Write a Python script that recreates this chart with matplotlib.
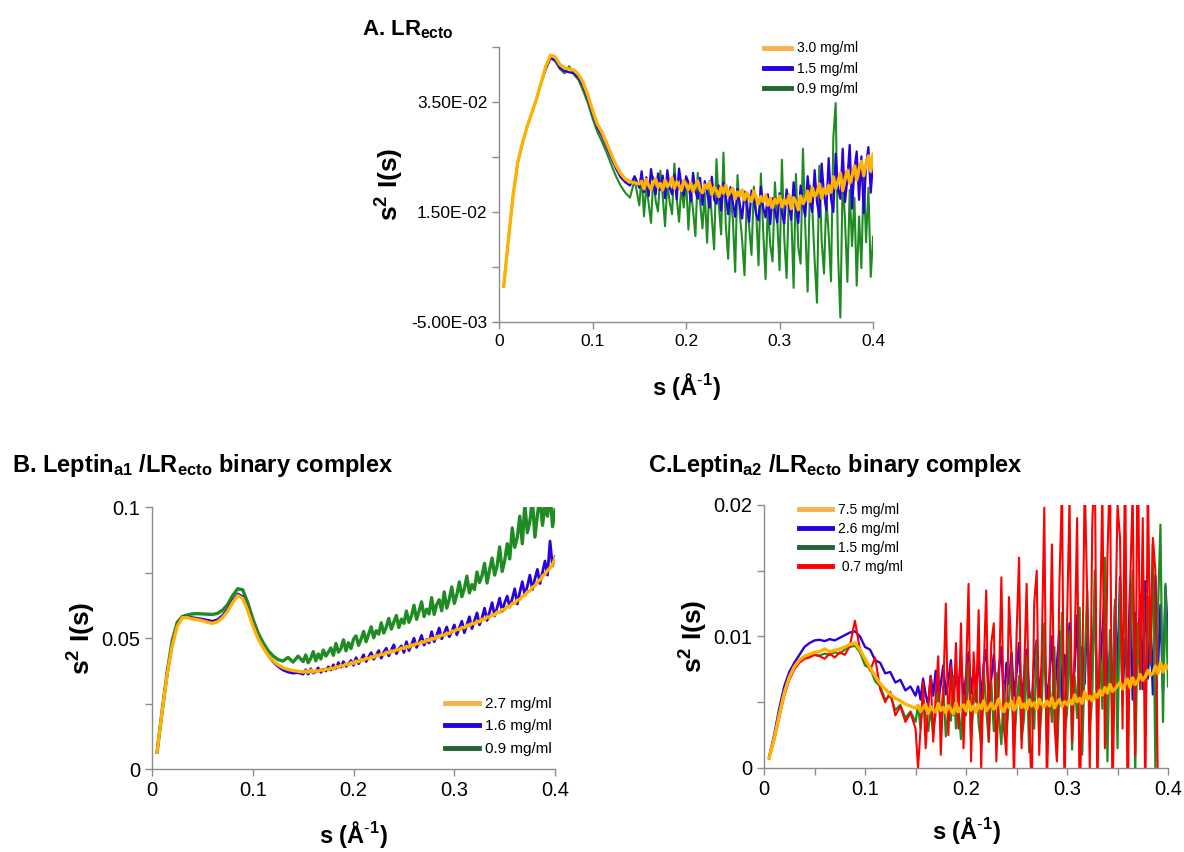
import numpy as np
import matplotlib.pyplot as plt
from matplotlib.lines import Line2D

plt.rcParams['font.family'] = ['Liberation Sans', 'DejaVu Sans']
plt.rcParams['mathtext.fontset'] = 'custom'
plt.rcParams['mathtext.rm'] = 'Liberation Sans'
plt.rcParams['mathtext.bf'] = 'Liberation Sans:bold'
plt.rcParams['mathtext.it'] = 'Liberation Sans:italic'

# s grid (1/A): coarse 0.005 steps up to 0.15, then 0.0025 steps up to 0.4
s = np.concatenate([np.arange(1, 31) * 0.005, 0.15 + np.arange(1, 101) * 0.0025])

# ---------------- panel A, s^2 I(s) in units of 1e-3 ----------------
a_30 = [1.5, 10, 18, 24, 27.5, 30.5, 33, 35.5, 38.5, 41.5,
        43.5, 43.2, 41.8, 41.2, 41, 40.8, 40, 38.5, 36.2, 33.5,
        31, 29.5, 27.5, 25.5, 23.5, 22, 21, 20.5, 20.3, 20.1,
        20.6, 19.2, 20.9, 19.8, 19.1, 20.4, 21.0, 19.5, 20.2, 19.0,
        20.8, 19.6, 20.1, 21.2, 19.3, 20.5, 19.8, 18.9, 20.7, 19.9,
        19.1, 20.3, 18.7, 19.8, 20.6, 19.0, 18.5, 19.9, 19.3, 20.4,
        18.2, 19.5, 18.9, 17.8, 19.6, 18.4, 19.9, 18.0, 18.7, 19.3,
        17.4, 18.6, 17.9, 19.0, 17.2, 18.5, 17.7, 16.9, 18.8, 17.6,
        16.5, 17.8, 16.9, 18.1, 16.2, 17.5, 15.8, 17.3, 16.6, 17.9,
        15.9, 17.2, 16.4, 18.0, 15.6, 17.6, 16.8, 15.4, 17.9, 16.5,
        17.2, 18.8, 16.9, 19.4, 17.8, 18.5, 20.1, 17.5, 19.2, 18.3,
        19.8, 18.6, 21.4, 19.3, 20.6, 22.1, 18.9, 21.0, 22.6, 20.2,
        21.5, 23.4, 20.8, 22.9, 24.2, 21.6, 23.8, 25.2, 22.4, 25.5]
a_15 = [1.5, 10, 18, 24, 27.5, 30.5, 33, 35.5, 38.5, 41,
        43, 42.6, 41.2, 40.6, 40.4, 40.2, 39.4, 37.8, 35.5, 32.8,
        30.4, 28.8, 26.8, 24.8, 22.9, 21.3, 20.4, 19.8, 21.5, 19.4,
        22.4, 18.6, 21.3, 17.9, 22.8, 20.1, 18.2, 22.0, 19.0, 21.6,
        17.5, 22.6, 19.4, 18.2, 21.8, 17.3, 22.9, 19.8, 18.0, 21.5,
        20.4, 16.9, 22.1, 18.8, 17.4, 21.2, 16.3, 20.6, 18.5, 15.8,
        21.4, 17.2, 16.5, 19.8, 15.2, 20.3, 17.9, 14.6, 19.5, 16.8,
        14.1, 19.2, 16.4, 13.8, 18.7, 15.9, 13.2, 18.9, 17.1, 14.5,
        13.5, 19.6, 15.8, 14.0, 18.2, 12.8, 17.5, 15.2, 13.1, 18.4,
        14.8, 12.9, 19.1, 16.2, 13.6, 20.4, 15.5, 13.0, 19.8, 16.2,
        14.2, 21.5, 17.0, 15.0, 22.6, 16.8, 14.1, 23.8, 18.2, 15.3,
        24.8, 17.4, 15.0, 25.6, 19.2, 17.4, 26.5, 16.8, 21.0, 27.2,
        15.6, 22.8, 26.0, 17.2, 25.1, 14.8, 23.6, 26.8, 18.5, 24.0]
a_09 = [1.5, 10, 18, 24, 27.5, 30.5, 33, 35.5, 38.5, 41,
        43, 42.4, 41.0, 40.2, 41.5, 40.0, 39.0, 37.0, 34.8, 32.0,
        29.6, 27.8, 25.8, 23.6, 21.5, 19.8, 18.5, 17.6, 20.8, 16.2,
        21.6, 14.2, 19.8, 16.5, 13.0, 21.3, 17.0, 15.1, 22.5, 18.0,
        12.4, 20.2, 16.8, 14.6, 23.8, 17.5, 13.2, 19.9, 15.8, 21.0,
        11.8, 19.5, 15.2, 10.6, 22.1, 16.9, 12.0, 18.4, 9.4, 20.6,
        14.0, 8.2, 24.6, 16.3, 10.9, 25.8, 12.5, 6.5, 18.4, 13.7,
        4.1, 21.7, 14.5, 9.8, 3.5, 17.8, 12.2, 7.2, 19.6, 15.0,
        5.3, 22.0, 11.4, 2.8, 16.5, 9.0, 6.0, 20.4, 13.6, 4.4,
        24.5, 10.2, 3.0, 18.2, 14.7, 1.2, 21.9, 8.6, 5.6, 26.5,
        12.3, 0.5, 19.8, 15.6, 6.2, -1.5, 23.4, 9.8, 3.8, 17.5,
        11.0, 2.4, 28.6, 34.8, 7.5, -4.2, 21.5, 13.4, 2.3, 19.0,
        8.8, 17.6, 1.6, 14.2, 4.8, 22.5, 9.5, 19.4, 3.2, 10.5]

# ---------------- panel B, units of 1e-3 ----------------
b_27 = [6.5, 22, 36, 47, 54.5, 57.8, 57.8, 57.3, 57.0, 56.6,
        56.0, 55.6, 56.2, 57.8, 60.2, 63.5, 66.2, 65.2, 60.5, 54.8,
        50.0, 46.5, 43.5, 41.3, 39.8, 38.7, 38.0, 37.6, 37.3, 37.0,
        37.4, 36.9, 37.8, 37.0, 37.6, 37.2, 38.0, 37.5, 38.2, 37.9,
        38.6, 38.1, 39.2, 38.8, 39.6, 39.3, 40.2, 39.8, 40.6, 40.3,
        41.2, 40.9, 41.8, 41.5, 42.4, 42.0, 42.9, 42.6, 43.5, 43.2,
        44.0, 43.6, 44.6, 44.3, 45.1, 44.8, 45.6, 45.4, 46.2, 46.0,
        46.8, 46.5, 47.4, 47.1, 48.0, 47.8, 48.6, 48.4, 49.2, 49.0,
        49.9, 49.6, 50.6, 50.3, 51.2, 51.0, 51.9, 51.7, 52.7, 52.5,
        53.4, 53.2, 54.1, 53.9, 54.9, 54.7, 55.6, 55.4, 56.4, 56.2,
        57.2, 57.0, 58.1, 57.9, 59.0, 58.8, 59.9, 59.8, 60.9, 60.8,
        62.0, 62.0, 63.2, 63.3, 64.5, 64.7, 66.0, 66.3, 67.6, 68.0,
        69.4, 69.9, 71.5, 72.1, 73.6, 74.4, 75.8, 76.8, 78.0, 80.5]
b_16 = [6.5, 22, 36, 47.5, 55, 58, 58, 57.8, 57.5, 57.2,
        56.8, 56.4, 57.0, 58.6, 61.0, 64.2, 66.8, 65.8, 61.2, 55.4,
        50.4, 46.8, 43.6, 41.0, 39.2, 37.8, 37.0, 36.6, 36.8, 36.2,
        37.9, 36.2, 38.3, 36.6, 37.2, 38.6, 36.9, 38.0, 37.4, 39.0,
        37.8, 39.8, 38.4, 40.6, 38.9, 41.0, 39.2, 40.1, 41.4, 39.6,
        42.5, 40.2, 41.8, 43.6, 41.0, 42.8, 44.4, 41.9, 43.5, 45.2,
        42.3, 44.6, 46.1, 43.2, 45.5, 47.4, 44.0, 45.8, 47.0, 44.5,
        48.6, 45.2, 47.5, 49.9, 46.4, 48.3, 51.0, 47.3, 49.5, 48.1,
        52.4, 48.6, 50.9, 53.8, 49.7, 51.8, 54.2, 50.5, 52.6, 55.0,
        51.2, 53.8, 56.4, 52.0, 55.2, 58.1, 53.6, 56.5, 59.6, 55.0,
        57.6, 61.4, 56.7, 59.9, 63.5, 58.4, 61.6, 65.2, 60.2, 63.5,
        66.0, 61.8, 65.0, 68.8, 63.0, 67.4, 71.5, 66.3, 69.8, 74.0,
        68.5, 72.6, 76.2, 70.8, 75.0, 79.4, 74.0, 87.0, 77.5, 81.0]
b_09 = [6.5, 22, 37, 49, 56, 58.2, 58.8, 59.2, 59.3, 59.2,
        59.1, 59.0, 59.4, 60.6, 62.8, 66.2, 68.8, 68.4, 63.5, 57.4,
        52.2, 48.4, 45.3, 43.2, 41.8, 41.2, 42.6, 40.8, 43.1, 41.0,
        43.5, 40.6, 42.2, 44.8, 41.3, 43.9, 42.0, 45.4, 43.1, 44.6,
        46.2, 43.4, 47.9, 44.6, 46.0, 49.3, 45.1, 48.2, 46.0, 49.6,
        50.8, 47.2, 49.6, 52.5, 48.6, 51.4, 54.3, 50.1, 52.8, 51.5,
        55.8, 51.9, 54.2, 57.5, 53.4, 56.1, 58.6, 54.0, 57.2, 55.6,
        60.3, 56.0, 58.4, 62.5, 57.1, 60.2, 63.8, 58.2, 61.0, 59.2,
        65.4, 59.0, 62.8, 64.6, 60.4, 67.6, 61.4, 64.8, 69.5, 63.2,
        66.5, 71.4, 65.8, 68.9, 73.6, 67.2, 70.4, 68.5, 75.2, 71.2,
        73.8, 78.5, 71.0, 76.0, 80.5, 74.0, 77.6, 84.8, 75.4, 79.5,
        86.0, 80.2, 92.0, 84.6, 88.4, 96.5, 86.0, 101, 90.2, 94.5,
        103, 88.5, 97.0, 104, 93.0, 101, 96.5, 106, 92.5, 99.0]

# ---------------- panel C, units of 1e-4 ----------------
c_75 = [7.5, 22, 40, 57, 69, 77, 82, 85, 86.5, 88,
        88.5, 90.5, 88.5, 89.5, 90.5, 92, 94, 95, 90, 83,
        76, 70, 64, 60, 56, 53, 51, 48.5, 47, 45.5,
        47.5, 43.0, 45.8, 48.2, 41.5, 46.8, 44.0, 42.6, 49.0, 43.8,
        46.1, 42.0, 47.3, 44.6, 41.2, 49.5, 42.8, 46.2, 48.0, 43.5,
        50.6, 44.0, 47.1, 42.4, 48.2, 45.1, 51.0, 43.6, 46.0, 49.4,
        44.8, 47.6, 52.5, 45.3, 42.9, 49.0, 46.2, 50.8, 44.1, 47.0,
        53.4, 46.0, 48.7, 44.5, 51.8, 47.2, 49.6, 45.0, 52.3, 48.5,
        46.4, 50.9, 47.3, 53.2, 45.8, 49.5, 52.0, 46.6, 50.4, 48.2,
        51.8, 48.5, 55.6, 50.4, 53.0, 49.2, 57.8, 52.2, 54.6, 51.0,
        56.5, 53.8, 59.0, 55.6, 61.2, 57.0, 63.5, 58.4, 60.1, 62.8,
        65.0, 60.2, 63.8, 67.6, 61.2, 68.6, 63.5, 66.0, 71.0, 66.8,
        69.5, 74.2, 70.4, 72.0, 77.5, 71.6, 80.2, 73.0, 78.5, 76.0]
c_26 = [8.5, 25, 45, 62, 73, 80, 86, 92, 95, 97,
        97.5, 96.5, 98, 97, 99, 101, 103, 104, 100, 92,
        90, 82, 80, 72, 73, 65, 67, 59, 62, 55,
        62, 52, 68, 56, 48, 70, 55, 74, 50, 64,
        78, 56, 66, 82, 54, 72, 60, 85, 52, 70,
        88, 57, 74, 62, 84, 50, 79, 90, 55, 68,
        86, 53, 75, 92, 48, 80, 64, 88, 55, 72,
        95, 50, 70, 90, 58, 46, 84, 97, 52, 76,
        94, 50, 68, 100, 55, 79, 104, 48, 86, 62,
        110, 56, 75, 116, 52, 92, 64, 120, 58, 85,
        128, 50, 72, 104, 135, 62, 88, 55, 124, 70,
        145, 55, 98, 66, 140, 52, 118, 80, 132, 60,
        142, 68, 112, 56, 146, 75, 124, 58, 138, 98]
c_15 = [7.5, 22, 40, 56, 68, 76, 81, 84, 85, 86,
        85.5, 87, 86, 88, 87, 90, 92, 93, 88, 78,
        76, 66, 62, 52, 55, 44, 48, 38, 43, 35,
        48, 30, 52, 38, 28, 45, 26, 42, 58, 32,
        62, 24, 44, 36, 70, 30, 48, 22, 55, 40,
        80, 22, 50, 68, 34, 18, 75, 45, 20, 66,
        28, 72, 40, 18, 64, 25, 52, 78, 15, 46,
        70, 22, 38, 85, 12, 58, 30, 96, 18, 48,
        110, 20, 65, 35, 92, 8, 58, 118, 25, 42,
        104, 14, 70, 38, 122, 10, 80, 135, 28, 55,
        150, 22, 90, 45, 160, 5, 105, 30, 128, 15,
        142, 48, 165, 12, 95, 150, -5, 110, 60, 168,
        25, 130, 78, 170, 0, 118, 185, 35, 140, 62]
c_07 = [7, 21, 38, 55, 67, 75, 80, 83, 84, 86,
        85, 83, 87, 84, 88, 86, 93, 112, 90, 82,
        74, 84, 60, 50, 58, 40, 47, 35, 42, 30,
        0, 30, 65, 15, 48, 70, 20, 55, 85, 10,
        60, 125, 25, 78, 40, 95, 30, 110, 15, 70,
        140, 5, 88, 50, 120, 0, 75, 135, 20, 95,
        110, 5, 60, 145, 30, 10, 130, 85, -10, 100,
        160, 15, 70, 140, 40, -20, 125, 150, 10, 90,
        198, -15, 60, 170, 35, 5, 140, 215, -25, 110,
        205, 20, 90, 190, -30, 60, 220, 130, 0, 185,
        240, -20, 100, 210, 15, 160, 230, -30, 90, 200,
        175, 30, 250, -40, 140, 210, 10, 260, 60, 190,
        -30, 220, 80, 175, 150, -20, np.nan, np.nan, np.nan, np.nan]

YELLOW = '#FFB300'
BLUE = '#2A00E0'
GREEN = '#1E8C22'
RED = '#FF0000'
LEG_YELLOW = '#F9B24A'
LEG_GREEN = '#1F6634'
GRAY = '#8C8C8C'

fig = plt.figure(figsize=(11.84, 8.52), dpi=100)

def style(ax, lab_size, xpad):
    for side in ['top', 'right']:
        ax.spines[side].set_visible(False)
    for side in ['left', 'bottom']:
        ax.spines[side].set_color(GRAY)
        ax.spines[side].set_linewidth(1.0)
    ax.tick_params(which='both', direction='out', color=GRAY, length=5, width=1,
                   labelsize=lab_size)
    ax.set_xlim(0, 0.4)
    ax.set_xticks([0, 0.1, 0.2, 0.3, 0.4])
    ax.set_xticklabels(['0', '0.1', '0.2', '0.3', '0.4'])
    ax.set_xlabel(r's (Å$^{\mathbf{\text{-}1}}$)', fontsize=17, fontweight='bold',
                  labelpad=xpad)
    ax.set_ylabel(r's$^{\mathbf{2}}$ I(s)', fontsize=19, fontweight='bold')

def legend(ax, labels, colors, **kw):
    handles = [Line2D([], [], color=c, lw=3.5) for c in colors]
    ax.legend(handles, labels, frameon=False, handletextpad=0.4,
              borderaxespad=0.0, **kw)

# ---- A ----
axA = fig.add_axes([0.4215, 0.6221, 0.3159, 0.3228])
axA.plot(s, np.array(a_09) * 1e-3, color=GREEN, lw=1.5)
axA.plot(s, np.array(a_15) * 1e-3, color=BLUE, lw=1.6)
axA.plot(s, np.array(a_30) * 1e-3, color=YELLOW, lw=2.4)
style(axA, 12.5, 16)
axA.set_ylim(-0.005, 0.045)
axA.set_yticks([-0.005, 0.015, 0.035])
axA.set_yticklabels(['-5.00E-03', '1.50E-02', '3.50E-02'])
axA.set_yticks([0.005, 0.025, 0.045], minor=True)
axA.yaxis.labelpad = 4
legend(axA, ['3.0 mg/ml', '1.5 mg/ml', '0.9 mg/ml'], [LEG_YELLOW, BLUE, LEG_GREEN],
       loc='upper right', fontsize=10, handlelength=2.0, labelspacing=0.44,
       bbox_to_anchor=(0.975, 1.04))
fig.text(0.306, 0.958, r'A. LR$_{\mathbf{ecto}}$', fontsize=16, fontweight='bold')

# ---- B ----
axB = fig.add_axes([0.1284, 0.0974, 0.3404, 0.3075])
axB.plot(s, np.array(b_09) * 1e-3, color=GREEN, lw=2.4)
axB.plot(s, np.array(b_16) * 1e-3, color=BLUE, lw=2.0)
axB.plot(s, np.array(b_27) * 1e-3, color=YELLOW, lw=2.4)
style(axB, 14.5, 14)
axB.set_ylim(0, 0.1)
axB.set_yticks([0, 0.05, 0.1])
axB.set_yticklabels(['0', '0.05', '0.1'])
axB.set_yticks([0.025, 0.075], minor=True)
axB.yaxis.labelpad = 2
legend(axB, ['2.7 mg/ml', '1.6 mg/ml', '0.9 mg/ml'], [LEG_YELLOW, BLUE, LEG_GREEN],
       loc='upper right', fontsize=11, handlelength=2.2, labelspacing=0.55,
       bbox_to_anchor=(1.007, 0.298))
fig.text(0.010, 0.446, r'B. Leptin$_{\mathbf{a1}}$ /LR$_{\mathbf{ecto}}$ binary complex',
         fontsize=17, fontweight='bold')

# ---- C ----
axC = fig.add_axes([0.6453, 0.0986, 0.3412, 0.3087])
axC.plot(s, np.array(c_26) * 1e-4, color=BLUE, lw=1.7)
axC.plot(s, np.array(c_15) * 1e-4, color=GREEN, lw=1.6)
axC.plot(s, np.array(c_07) * 1e-4, color=RED, lw=1.5)
axC.plot(s, np.array(c_75) * 1e-4, color=YELLOW, lw=2.4)
style(axC, 14.5, 12)
axC.set_ylim(0, 0.02)
axC.set_yticks([0, 0.01, 0.02])
axC.set_yticklabels(['0', '0.01', '0.02'])
axC.set_yticks([0.005, 0.015], minor=True)
axC.set_xticks([0.05, 0.15, 0.25, 0.35], minor=True)
axC.yaxis.labelpad = 2
legend(axC, ['7.5 mg/ml', '2.6 mg/ml', '1.5 mg/ml', ' 0.7 mg/ml'],
       [LEG_YELLOW, BLUE, LEG_GREEN, RED],
       loc='upper left', fontsize=10, handlelength=2.4, labelspacing=0.37,
       bbox_to_anchor=(0.073, 1.029))
fig.text(0.547, 0.446, r'C.Leptin$_{\mathbf{a2}}$ /LR$_{\mathbf{ecto}}$ binary complex',
         fontsize=17, fontweight='bold')

fig.savefig('out.png', dpi=100)
